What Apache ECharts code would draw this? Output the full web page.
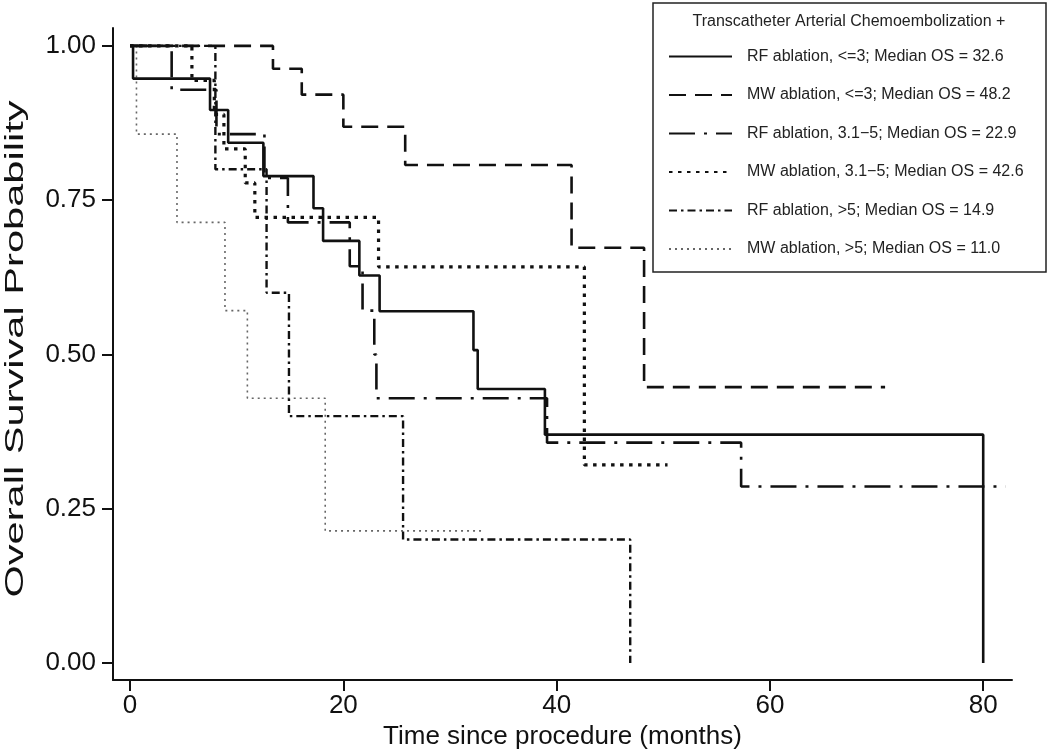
<!DOCTYPE html>
<html>
<head>
<meta charset="utf-8">
<script src="https://cdn.jsdelivr.net/npm/echarts@6/dist/echarts.min.js"></script>
<style>
html,body{margin:0;padding:0;background:#fff;}
#chart{width:1050px;height:754px;}
</style>
</head>
<body>
<div id="chart"></div>
<script>
// ---- data (time in months, survival probability) ----
const seriesNames = [
  'RF ablation, <=3; Median OS = 32.6',
  'MW ablation, <=3; Median OS = 48.2',
  'RF ablation, 3.1\u22125; Median OS = 22.9',
  'MW ablation, 3.1\u22125; Median OS = 42.6',
  'RF ablation, >5; Median OS = 14.9',
  'MW ablation, >5; Median OS = 11.0'
];
const rfLe3Time = [0, 0.28, 7.5, 9.2, 12.5, 17.2, 18.1, 21.5, 23.4, 32.2, 32.6, 38.9, 80.0];
const rfLe3Surv = [1, 0.947, 0.896, 0.843, 0.789, 0.737, 0.684, 0.628, 0.570, 0.507, 0.444, 0.370, 0];
const mwLe3Time = [0, 13.4, 16.1, 20.0, 25.8, 41.4, 48.2, 70.8];
const mwLe3Surv = [1, 0.963, 0.921, 0.869, 0.807, 0.673, 0.447, 0.447];
const rf31Time = [0, 3.9, 8.1, 12.6, 14.8, 20.6, 21.8, 22.9, 23.1, 39.1, 57.3, 82.1];
const rf31Surv = [1, 0.929, 0.857, 0.786, 0.714, 0.643, 0.571, 0.5, 0.429, 0.357, 0.286, 0.286];
const mw31Time = [0, 5.8, 7.9, 8.8, 10.8, 11.7, 23.3, 42.6, 50.4];
const mw31Surv = [1, 0.944, 0.889, 0.833, 0.778, 0.722, 0.642, 0.321, 0.321];
const rfGt5Time = [0, 8.0, 12.8, 14.9, 25.6, 46.9];
const rfGt5Surv = [1, 0.8, 0.6, 0.4, 0.2, 0];
const mwGt5Time = [0, 0.6, 4.4, 8.9, 11.0, 18.3, 33.1];
const mwGt5Surv = [1, 0.857, 0.714, 0.571, 0.429, 0.214, 0.214];
const xTicks = [0, 20, 40, 60, 80];
const yTicks = [0, 0.25, 0.5, 0.75, 1];
const xTitle = 'Time since procedure (months)';
const yTitle = 'Overall Survival Probability';
const legendTitle = 'Transcatheter Arterial Chemoembolization +';

const FONT = 'Liberation Sans, Arial, Helvetica, sans-serif';
const pair = (t, s) => t.map((v, i) => [v, s[i]]);
const curves = [
  {t: rfLe3Time, s: rfLe3Surv, style: {color: '#111', width: 2.6, type: 'solid'}},
  {t: mwLe3Time, s: mwLe3Surv, style: {color: '#111', width: 2.6, type: [17, 9]}},
  {t: rf31Time, s: rf31Surv, style: {color: '#111', width: 2.6, type: [26, 9, 3, 9]}},
  {t: mw31Time, s: mw31Surv, style: {color: '#111', width: 3.2, type: [3.5, 5.5]}},
  {t: rfGt5Time, s: rfGt5Surv, style: {color: '#111', width: 2.4, type: [8, 4, 2.5, 4]}},
  {t: mwGt5Time, s: mwGt5Surv, style: {color: '#666', width: 1.6, type: [2, 4]}}
];

const chart = echarts.init(document.getElementById('chart'), null, {renderer: 'canvas'});
chart.setOption({
  animation: false,
  backgroundColor: '#fff',
  textStyle: {fontFamily: FONT},
  grid: {left: 113, right: 38, top: 28, bottom: 74, containLabel: false, outerBoundsMode: 'none'},
  xAxis: {
    type: 'value', min: -1.6, max: 82.7,
    name: xTitle, nameLocation: 'middle', nameGap: 36,
    nameTextStyle: {fontSize: 26, color: '#111', fontFamily: FONT},
    axisLine: {show: true, onZero: false, lineStyle: {color: '#111', width: 2}},
    axisTick: {show: true, customValues: xTicks, length: 11, lineStyle: {color: '#111', width: 2}},
    axisLabel: {customValues: xTicks, fontSize: 26, color: '#111', margin: 13, fontFamily: FONT},
    splitLine: {show: false}
  },
  yAxis: {
    type: 'value', min: -0.0276, max: 1.029,
    axisLine: {show: true, onZero: false, lineStyle: {color: '#111', width: 2}},
    axisTick: {show: true, customValues: yTicks, length: 11, lineStyle: {color: '#111', width: 2}},
    axisLabel: {customValues: yTicks, fontSize: 26, color: '#111', margin: 17, fontFamily: FONT,
      formatter: v => v.toFixed(2)},
    splitLine: {show: false}
  },
  legend: {
    orient: 'vertical', left: 668, top: 46.5, padding: 0,
    itemWidth: 63, itemHeight: 10, itemGap: 18.5,
    itemStyle: {opacity: 0},
    textStyle: {fontSize: 16, color: '#222', lineHeight: 20, fontFamily: FONT, padding: [0, 0, 0, 10]},
    data: seriesNames
  },
  graphic: [
    {type: 'rect', shape: {x: 653, y: 3, width: 393, height: 269},
      style: {fill: 'none', stroke: '#222', lineWidth: 1.5}, z: 100},
    {type: 'text', x: 849, y: 22, z: 100,
      style: {text: legendTitle, font: '16px ' + FONT,
        fill: '#222', align: 'center', verticalAlign: 'middle'}},
    {type: 'text', x: 16, y: 349, rotation: Math.PI / 2, scaleX: 1.6, z: 100,
      style: {text: yTitle, font: '26px ' + FONT,
        fill: '#111', align: 'center', verticalAlign: 'middle'}}
  ],
  series: curves.map((c, i) => ({
    name: seriesNames[i], type: 'line', step: 'end', symbol: 'none', showSymbol: false,
    data: pair(c.t, c.s), lineStyle: c.style, itemStyle: {color: c.style.color},
    emphasis: {disabled: true}, z: 10 - i
  }))
});
</script>
</body>
</html>
